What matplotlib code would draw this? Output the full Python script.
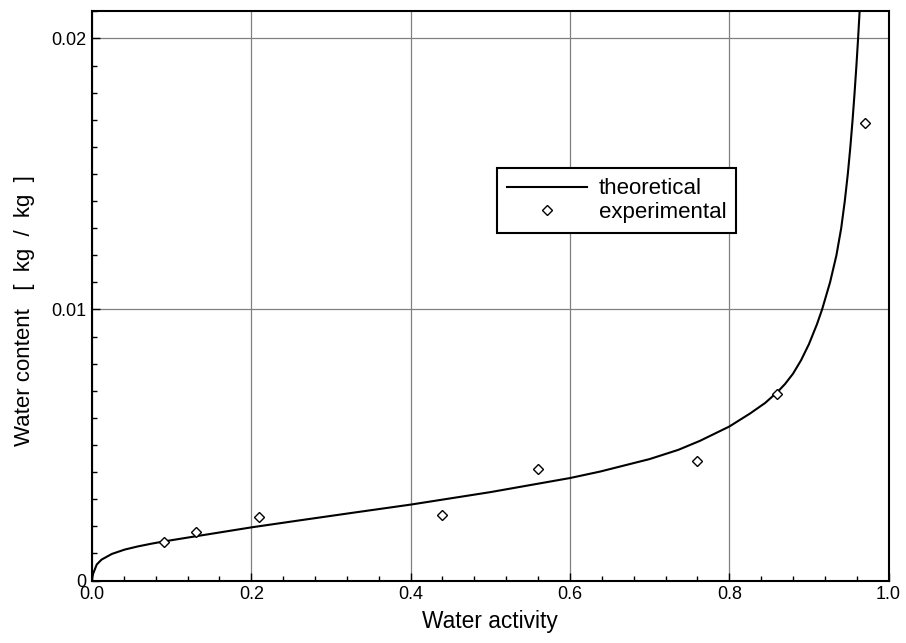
import matplotlib.pyplot as plt
from matplotlib.ticker import MultipleLocator, FixedLocator, FixedFormatter

plt.rcParams['font.family'] = ['Liberation Sans', 'DejaVu Sans']

# theoretical isotherm
theo_aw = [0.0, 0.0004, 0.0016, 0.006, 0.012, 0.025, 0.041, 0.058, 0.075, 0.09,
           0.13, 0.2, 0.261, 0.33, 0.4, 0.5, 0.6, 0.638, 0.7, 0.736, 0.763, 0.8,
           0.826, 0.845, 0.861, 0.87, 0.88, 0.89, 0.9, 0.91, 0.9165, 0.9265,
           0.9345, 0.9405, 0.945, 0.9488, 0.952, 0.9548, 0.9573, 0.9596, 0.9617,
           0.9636]
theo_x = [0.0, 0.00012, 0.00026, 0.00059, 0.00077, 0.00098, 0.00114, 0.00126,
          0.00136, 0.00144, 0.00163, 0.00196, 0.00222, 0.00251, 0.0028, 0.00326,
          0.00378, 0.00402, 0.00448, 0.00482, 0.00515, 0.00568, 0.00616, 0.00655,
          0.00697, 0.00725, 0.00763, 0.00812, 0.00872, 0.00945, 0.0100, 0.0110,
          0.0120, 0.0130, 0.0140, 0.0150, 0.0160, 0.0170, 0.0180, 0.0190, 0.0200,
          0.0210]

# experimental points
exp_aw = [0.09, 0.13, 0.21, 0.44, 0.56, 0.76, 0.86, 0.97]
exp_x = [0.00141, 0.00178, 0.00236, 0.00243, 0.00413, 0.00440, 0.00689, 0.01689]

x_ticks = [0.0, 0.2, 0.4, 0.6, 0.8, 1.0]
x_labels = ['0.0', '0.2', '0.4', '0.6', '0.8', '1.0']
y_ticks = [0.0, 0.01, 0.02]
y_labels = ['0', '0.01', '0.02']

fig = plt.figure(figsize=(9.06, 6.43), dpi=100)
ax = fig.add_axes([0.1015, 0.0972, 0.8793, 0.8852])

ax.plot(theo_aw, theo_x, color='black', linewidth=1.5, label='theoretical',
        solid_joinstyle='round', zorder=3)
ax.plot(exp_aw, exp_x, linestyle='none', marker='D', markersize=5,
        markerfacecolor='white', markeredgecolor='black', markeredgewidth=1,
        label='experimental', zorder=4)

ax.set_xlim(0, 1.0)
ax.set_ylim(0, 0.021)

ax.xaxis.set_major_locator(FixedLocator(x_ticks))
ax.xaxis.set_major_formatter(FixedFormatter(x_labels))
ax.xaxis.set_minor_locator(MultipleLocator(0.04))
ax.yaxis.set_major_locator(FixedLocator(y_ticks))
ax.yaxis.set_major_formatter(FixedFormatter(y_labels))
ax.yaxis.set_minor_locator(MultipleLocator(0.001))

ax.tick_params(which='both', direction='in', top=False, right=False,
               labelsize=13, width=1)
ax.tick_params(which='major', length=6, pad=4)
ax.tick_params(which='minor', length=3.5)

ax.grid(True, which='major', color='#808080', linewidth=0.9)
ax.set_axisbelow(True)
for sp in ax.spines.values():
    sp.set_linewidth(1.5)

ax.set_xlabel('Water activity', fontsize=16.4, labelpad=5)
ax.set_ylabel('Water content   [  kg  /  kg  ]', fontsize=16)
ax.yaxis.set_label_coords(-0.071, 0.4735)

leg = ax.legend(loc='upper left', bbox_to_anchor=(0.509, 0.724), borderaxespad=0,
                fontsize=16, handlelength=3.6, labelspacing=0.1,
                fancybox=False, framealpha=1, edgecolor='black',
                borderpad=0.45, handletextpad=0.5)
leg.get_frame().set_linewidth(1.5)

fig.savefig('out.png', dpi=100)
